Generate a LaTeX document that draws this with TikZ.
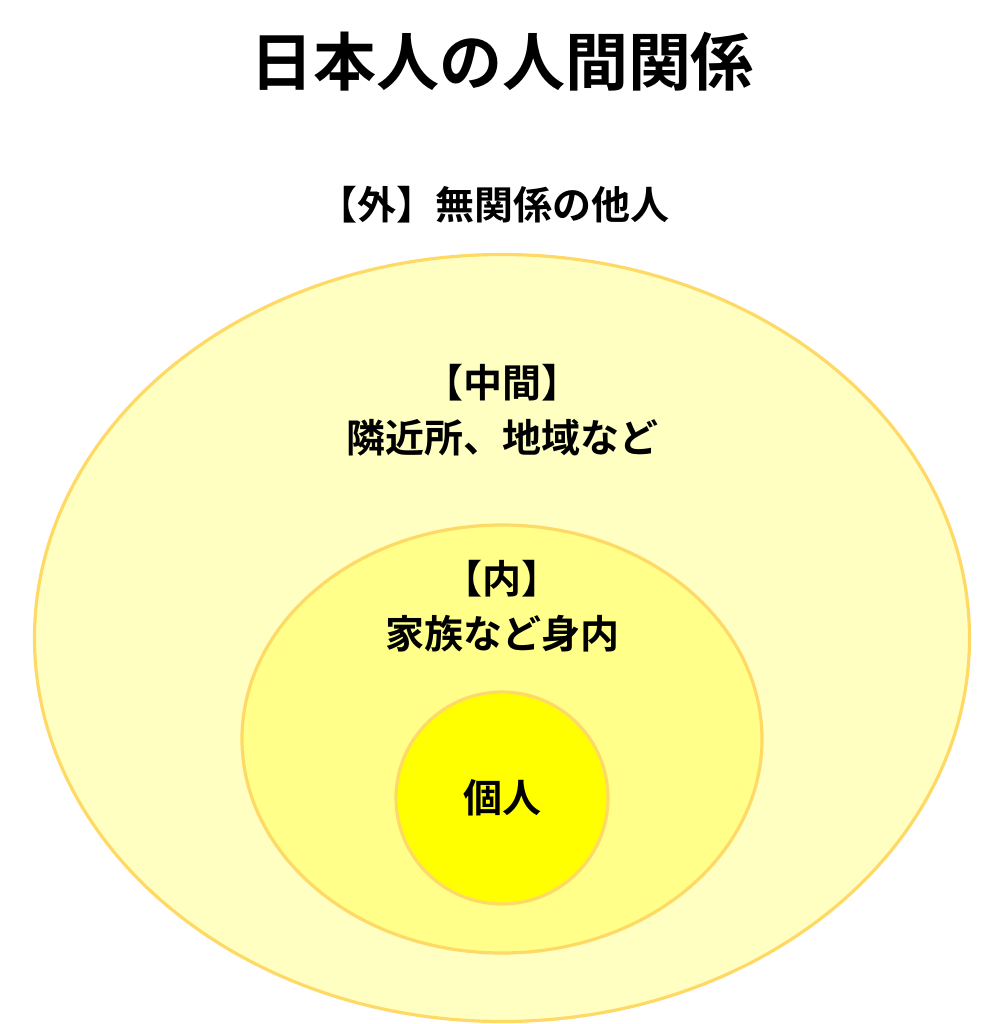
\documentclass[tikz,border=0pt]{standalone}
\usepackage{fontspec}
\newfontfamily\cjk{Noto Sans CJK JP}[BoldFont={Noto Sans CJK JP Bold}]
\usetikzlibrary{shapes.geometric}
\definecolor{ringline}{HTML}{FFD966}
\definecolor{outerfill}{HTML}{FFFFC1}
\definecolor{middlefill}{HTML}{FFFF8A}
\definecolor{innerfill}{HTML}{FFFF00}
\begin{document}
\begin{tikzpicture}[x=0.5pt,y=-0.5pt]
\tikzstyle{every node}=[text centered, inner sep=0pt, font=\cjk\bfseries\fontsize{19.5}{27.5}\selectfont]
\tikzstyle{ring} = [draw=ringline, line width=1.6pt];
\useasboundingbox (0,0) rectangle (1005,1024);
\node[ring, ellipse, fill=outerfill, minimum width=467.5pt, minimum height=383.5pt] (outer) at (502,638) {};
\node[ring, ellipse, fill=middlefill, minimum width=260pt, minimum height=214pt] (middle) at (502,739) {};
\node[ring, circle, fill=innerfill, minimum size=106pt] (self) at (502,798) {個人};
\node[font=\cjk\bfseries\fontsize{31.5}{36}\selectfont] (title) at (502,62) {日本人の人間関係};
\node (outerlabel) at (494,205) {【外】無関係の他人};
\node[align=center] (middlelabel) at (502,410) {【中間】\\隣近所、地域など};
\node[align=center] (innerlabel) at (502,606) {【内】\\家族など身内};
\end{tikzpicture}
\end{document}
